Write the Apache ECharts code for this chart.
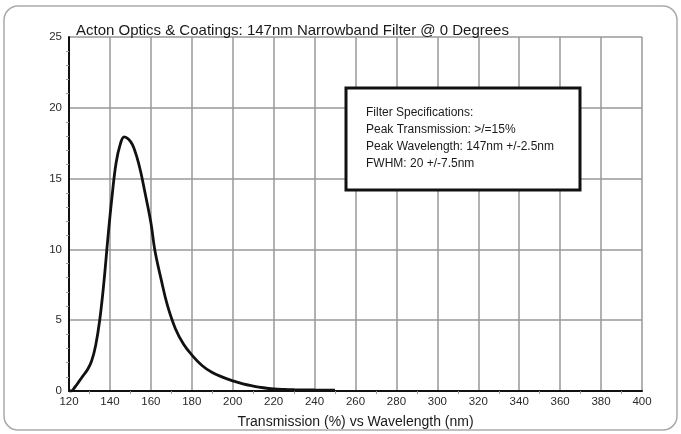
<!DOCTYPE html>
<html>
<head>
<meta charset="utf-8">
<script src="https://cdn.jsdelivr.net/npm/echarts@6/dist/echarts.min.js"></script>
<style>
html,body{margin:0;padding:0;background:#fff;}
#chart{width:681px;height:434px;}
</style>
</head>
<body>
<div id="chart"></div>
<script>
var chartTitle = 'Acton Optics & Coatings: 147nm Narrowband Filter @ 0 Degrees';
var xAxisName = 'Transmission (%) vs Wavelength (nm)';
var wavelengths = [120,121,123,125,127,129,131,133,135,137,139,141,143,145,147,149,151,153,155,157,160,162,165,168,172,176,180,185,190,195,200,205,210,215,220,225,230,240,250];
var transmission = [0,0,0.3,0.7,1.1,1.5,2.1,3.2,5.0,7.6,10.8,13.7,16.1,17.4,17.95,17.8,17.4,16.6,15.5,14.1,11.9,9.9,7.9,6.1,4.4,3.3,2.55,1.8,1.3,0.98,0.72,0.5,0.35,0.23,0.15,0.11,0.09,0.07,0.06];
var specLines = ['Filter Specifications:', 'Peak Transmission: >/=15%', 'Peak Wavelength: 147nm +/-2.5nm', 'FWHM: 20 +/-7.5nm'];
var xTicks = {min:120, max:400, interval:20};
var yTicks = {min:0, max:25, interval:5};

var FONT = '"Liberation Sans", Arial, sans-serif';
var chart = echarts.init(document.getElementById('chart'));
var pts = wavelengths.map(function(w,i){return [w, transmission[i]];});
chart.setOption({
  animation:false,
  backgroundColor:'#fff',
  grid:{left:69, right:39, top:37, bottom:39},
  title:{text:chartTitle, left:71, top:18, textStyle:{fontFamily:FONT, fontSize:15, fontWeight:'normal', color:'#1a1a1a'}},
  xAxis:{
    type:'value', min:xTicks.min, max:xTicks.max, interval:xTicks.interval,
    name:xAxisName, nameLocation:'middle', nameGap:24,
    nameTextStyle:{fontFamily:FONT, fontSize:14, color:'#1a1a1a'},
    axisLine:{lineStyle:{color:'#111', width:2}},
    axisTick:{show:false},
    minorTick:{show:true, splitNumber:2, length:3, lineStyle:{color:'#999'}},
    axisLabel:{fontFamily:FONT, fontSize:11.5, color:'#2a2a2a', margin:5},
    splitLine:{show:true, lineStyle:{color:'#999', width:1.5}}
  },
  yAxis:{
    type:'value', min:yTicks.min, max:yTicks.max, interval:yTicks.interval,
    axisLine:{show:true, lineStyle:{color:'#111', width:2}},
    axisTick:{show:false},
    minorTick:{show:true, splitNumber:5, length:3, lineStyle:{color:'#999'}},
    axisLabel:{fontFamily:FONT, fontSize:11.5, color:'#2a2a2a', margin:7},
    splitLine:{show:true, lineStyle:{color:'#999', width:1.5}}
  },
  series:[{
    type:'line', data:pts, smooth:0.4, showSymbol:false,
    lineStyle:{color:'#111', width:2.8}
  }],
  graphic:[
    {type:'rect', shape:{x:4, y:6, width:673, height:424, r:14}, style:{fill:'none', stroke:'#aaa', lineWidth:1.5}, z:-1},
    {type:'rect', shape:{x:346, y:88, width:234, height:102}, style:{fill:'#fff', stroke:'#111', lineWidth:3}, z:100},
    {type:'text', left:366, top:104, z:101, style:{text:specLines.join('\n'), fill:'#1a1a1a', font:'12px ' + FONT, lineHeight:17}}
  ]
});
</script>
</body>
</html>
